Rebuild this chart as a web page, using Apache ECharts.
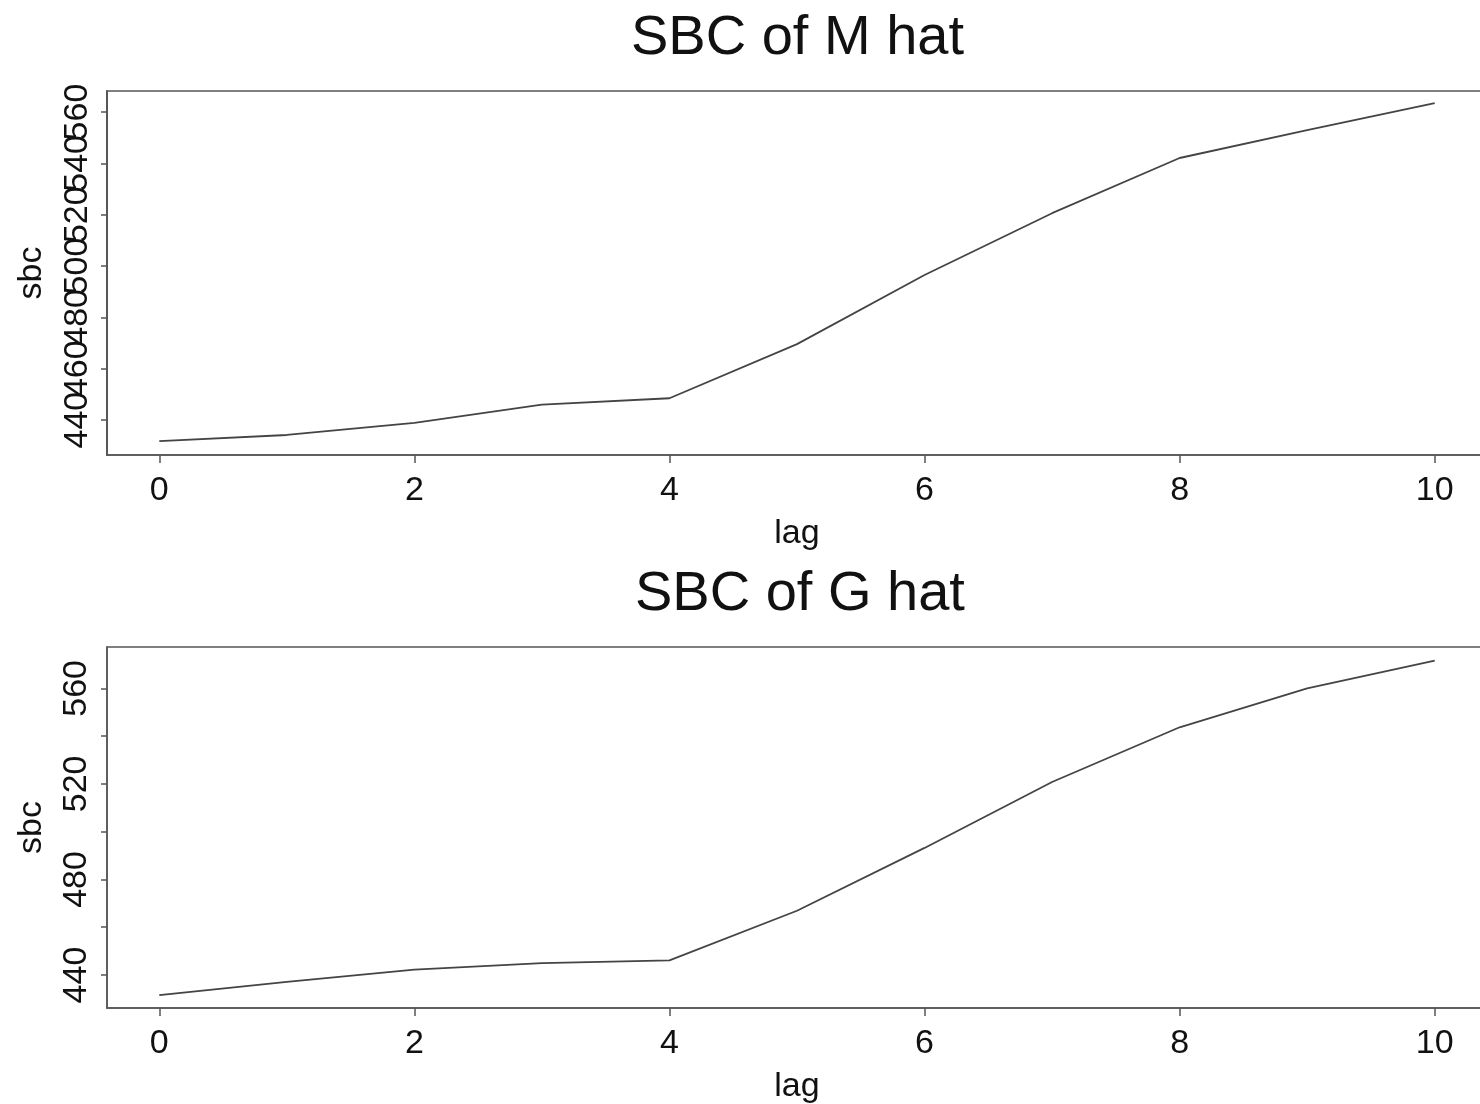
<!DOCTYPE html>
<html>
<head>
<meta charset="utf-8">
<script src="https://cdn.jsdelivr.net/npm/echarts@6/dist/echarts.min.js"></script>
<style>
html,body{margin:0;padding:0;background:#fff;}
#c{width:1480px;height:1104px;}
</style>
</head>
<body>
<div id="c"></div>
<script>
// lags
const lags = [0, 1, 2, 3, 4, 5, 6, 7, 8, 9, 10];
// SBC of M hat
const sbcM = [431.8, 434.2, 438.9, 446.0, 448.5, 469.6, 496.5, 520.6, 542.1, 553.0, 563.5];
// SBC of G hat
const sbcG = [431.6, 437.1, 442.3, 445.0, 446.1, 466.9, 493.2, 520.8, 543.7, 560.0, 571.6];
// tick labels
const xTicks = [0, 2, 4, 6, 8, 10];
const yTicksMa = [440, 480, 520, 560];   // top panel, labelled ticks (set a)
const yTicksMb = [460, 500, 540];        // top panel, labelled ticks (set b)
const yLabelsG = [440, 480, 520, 560];
const yTicksG = [440, 460, 480, 500, 520, 540, 560];

const FONT = 'Liberation Sans';
const txt = '#111';
const axisCol = '#555';

function xAxisCfg(gridIndex) {
  return {
    type: 'value', gridIndex,
    min: -0.41, max: 10.41,
    name: 'lag', nameLocation: 'middle', nameGap: 62,
    nameTextStyle: { fontFamily: FONT, fontSize: 34, color: txt },
    axisLine: { show: true, onZero: false, lineStyle: { color: axisCol, width: 1.5 } },
    axisTick: { show: true, length: 8, interval: 0, customValues: xTicks, lineStyle: { color: axisCol, width: 1.5 } },
    axisLabel: { customValues: xTicks, interval: 0, fontFamily: FONT, fontSize: 34, color: txt, margin: 19,
                 showMinLabel: true, showMaxLabel: true, hideOverlap: false },
    splitLine: { show: false }
  };
}
function yAxisCfg(gridIndex, min, max, labels, ticks, margin, withName) {
  return {
    type: 'value', gridIndex, min, max, position: 'left', offset: 0,
    name: withName ? 'sbc' : '', nameLocation: 'middle', nameGap: 58, nameRotate: 90,
    nameTextStyle: { fontFamily: FONT, fontSize: 34, color: txt },
    axisLine: { show: true, onZero: false, lineStyle: { color: axisCol, width: 1.5 } },
    axisTick: { show: true, length: 6, interval: 0, customValues: ticks, lineStyle: { color: axisCol, width: 1.5 } },
    axisLabel: { customValues: labels, interval: 0, rotate: 90, fontFamily: FONT, fontSize: 34, color: txt, margin: margin,
                 showMinLabel: true, showMaxLabel: true, hideOverlap: false },
    splitLine: { show: false }
  };
}

const chart = echarts.init(document.getElementById('c'), null, { renderer: 'canvas' });
chart.setOption({
  animation: false,
  backgroundColor: '#fff',
  title: [
    { text: 'SBC of M hat', left: 626, top: 6, textStyle: { fontFamily: FONT, fontSize: 56, fontWeight: 'normal', color: txt } },
    { text: 'SBC of G hat', left: 630, top: 562, textStyle: { fontFamily: FONT, fontSize: 56, fontWeight: 'normal', color: txt } }
  ],
  grid: [
    { left: 107, width: 1380, top: 91, height: 364, outerBoundsMode: 'none', containLabel: false,
      show: true, borderColor: axisCol, borderWidth: 1.5, backgroundColor: 'transparent' },
    { left: 107, width: 1380, top: 647, height: 361, outerBoundsMode: 'none', containLabel: false,
      show: true, borderColor: axisCol, borderWidth: 1.5, backgroundColor: 'transparent' }
  ],
  xAxis: [xAxisCfg(0), xAxisCfg(1)],
  yAxis: [
    yAxisCfg(0, 426.4, 568.2, yTicksMa, yTicksMa, 12, true),
    yAxisCfg(0, 426.4, 568.2, yTicksMb, yTicksMb, 12, false),
    yAxisCfg(1, 426.2, 577.3, yLabelsG, yTicksG, 13, true)
  ],
  series: [
    { type: 'line', xAxisIndex: 0, yAxisIndex: 0, data: lags.map((l, i) => [l, sbcM[i]]), showSymbol: false, lineStyle: { color: '#444', width: 1.8 } },
    { type: 'line', xAxisIndex: 1, yAxisIndex: 2, data: lags.map((l, i) => [l, sbcG[i]]), showSymbol: false, lineStyle: { color: '#444', width: 1.8 } }
  ]
});
</script>
</body>
</html>
